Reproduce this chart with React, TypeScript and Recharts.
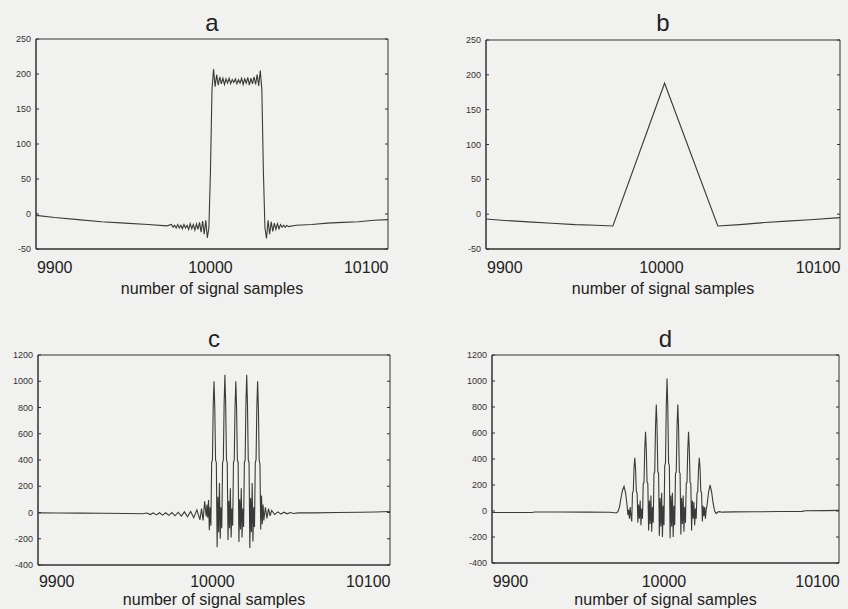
import React from 'react';
import { LineChart, Line, XAxis, YAxis, ReferenceArea } from 'recharts';

const FONT = '"Liberation Sans", Arial, Helvetica, sans-serif';
const INK = '#333';
const PAPER = '#f1f1ef';

// x axis: sample number
const sampleRange: [number, number] = [9888, 10114];
const sampleTicks = [9900, 10000, 10100];

// y axis ticks
const smallTicks = [-50, 0, 50, 100, 150, 200, 250];
const largeTicks = [-400, -200, 0, 200, 400, 600, 800, 1000, 1200];

// a: rectangular pulse with ringing
const pulseA: [number, number][] = [
  [9888, -2], [9900, -5], [9915, -8], [9930, -11], [9945, -13], [9960, -15], [9972, -17],
  [9975, -15], [9976, -19], [9977, -16], [9978, -20], [9979, -15], [9980, -20], [9981, -16],
  [9982, -21], [9983, -15], [9984, -20], [9985, -16], [9986, -22], [9987, -14], [9988, -21],
  [9989, -15], [9990, -23], [9991, -14], [9992, -22], [9993, -12], [9994, -26], [9995, -10],
  [9996, -29], [9997, -9], [9998, -34], [9999, -20], [10000, 60],
  [10001, 178], [10002, 207], [10003, 182], [10004, 199], [10005, 184], [10006, 196], [10007, 186],
  [10008, 194], [10009, 185], [10010, 193], [10011, 187], [10012, 194], [10013, 186], [10014, 192],
  [10015, 188], [10016, 193], [10017, 186], [10018, 192], [10019, 187], [10020, 194], [10021, 185],
  [10022, 193], [10023, 187], [10024, 195], [10025, 184], [10026, 194], [10027, 186], [10028, 196],
  [10029, 185], [10030, 199], [10031, 183], [10032, 205], [10033, 178], [10034, 60],
  [10035, -20], [10036, -35], [10037, -9], [10038, -29], [10039, -11], [10040, -25], [10041, -13],
  [10042, -22], [10043, -14], [10044, -21], [10045, -15], [10046, -19], [10047, -16], [10048, -19],
  [10049, -16], [10050, -18], [10055, -16], [10065, -15], [10075, -13], [10085, -12], [10095, -11],
  [10105, -9], [10114, -8],
];

// b: triangle
const triangleB: [number, number][] = [
  [9888, -7], [9900, -9], [9915, -11], [9930, -13], [9945, -15], [9958, -16], [9969, -17],
  [10002, 188], [10036, -17], [10050, -15], [10066, -12], [10080, -10], [10095, -8], [10114, -5],
];

// c: five equal bursts
const burstsC: [number, number][] = [
  [9888, -3], [9900, -4], [9915, -5], [9930, -6], [9945, -8], [9955, -10],
  [9958, -4], [9960, -16], [9962, -3], [9964, -18], [9966, -2], [9968, -20], [9970, -2],
  [9972, -22], [9974, 0], [9976, -25], [9978, 2], [9980, -28], [9982, 5], [9984, -32],
  [9986, 8], [9988, -40], [9990, 20], [9992, -55], [9993, 30], [9994, -60], [9995, 85],
  [9996, -30], [9996.5, 60], [9997, -40], [9997.5, 95], [9998, -135], [9998.5, 40], [9999, -100], [9999.5, 380],
  [10000, 400], [10000.5, 820], [10001, 1000], [10001.5, 800], [10002, 400], [10002.5, 380], [10003, -265],
  [10003.5, 120], [10004, -150], [10004.5, 225], [10005, -200], [10005.5, 40], [10006, -120], [10006.5, 380],
  [10007, 400], [10007.5, 830], [10008, 1050], [10008.5, 820], [10009, 400], [10009.5, 380], [10010, -210],
  [10010.5, 90], [10011, -120], [10011.5, 185], [10012, -190], [10012.5, 30], [10013, -100], [10013.5, 380],
  [10014, 400], [10014.5, 800], [10015, 1000], [10015.5, 800], [10016, 400], [10016.5, 380], [10017, -225],
  [10017.5, 100], [10018, -130], [10018.5, 185], [10019, -190], [10019.5, 30], [10020, -110], [10020.5, 380],
  [10021, 400], [10021.5, 830], [10022, 1050], [10022.5, 820], [10023, 400], [10023.5, 380], [10024, -270],
  [10024.5, 110], [10025, -150], [10025.5, 225], [10026, -220], [10026.5, 40], [10027, -110], [10027.5, 380],
  [10028, 400], [10028.5, 800], [10029, 1000], [10029.5, 800], [10030, 400], [10030.5, 370], [10031, -130],
  [10031.5, 130], [10032, -90], [10032.5, 60], [10033, -60], [10034, 40], [10035, -45],
  [10036, 30], [10037, -25], [10038, 15], [10040, -15], [10042, 5], [10044, -12], [10046, 2],
  [10048, -10], [10050, 0], [10052, -8], [10055, -3], [10065, -3], [10080, 0], [10095, 2],
  [10105, 4], [10114, 8],
];

// d: pyramid of bursts
const burstsD: [number, number][] = [
  [9888, -12], [9900, -12], [9914, -11], [9916, -8], [9930, -8], [9950, -9], [9965, -10],
  [9969, -15], [9970, -5], [9971, 30], [9972, 100], [9973, 160], [9974, 190], [9975, 140],
  [9976, 40], [9976.5, -30], [9977, 10], [9977.5, -60], [9978, 30], [9978.5, -40], [9979, -80], [9979.5, 140],
  [9980, 150], [9980.5, 330], [9981, 410], [9981.5, 320], [9982, 150], [9982.5, 140], [9983, -90],
  [9983.5, 50], [9984, -60], [9984.5, 80], [9985, -110], [9985.5, 20], [9986, -60], [9986.5, 210],
  [9987, 220], [9987.5, 480], [9988, 610], [9988.5, 470], [9989, 220], [9989.5, 210], [9990, -150],
  [9990.5, 80], [9991, -100], [9991.5, 120], [9992, -160], [9992.5, 30], [9993, -90], [9993.5, 290],
  [9994, 300], [9994.5, 650], [9995, 820], [9995.5, 640], [9996, 300], [9996.5, 290], [9997, -190],
  [9997.5, 100], [9998, -120], [9998.5, 140], [9999, -200], [9999.5, 40], [10000, -110], [10000.5, 350],
  [10001, 370], [10001.5, 800], [10002, 1020], [10002.5, 800], [10003, 370], [10003.5, 350], [10004, -210],
  [10004.5, 120], [10005, -120], [10005.5, 140], [10006, -200], [10006.5, 40], [10007, -110], [10007.5, 290],
  [10008, 300], [10008.5, 640], [10009, 820], [10009.5, 650], [10010, 300], [10010.5, 290], [10011, -180],
  [10011.5, 100], [10012, -100], [10012.5, 120], [10013, -160], [10013.5, 30], [10014, -90], [10014.5, 210],
  [10015, 220], [10015.5, 470], [10016, 610], [10016.5, 480], [10017, 220], [10017.5, 210], [10018, -150],
  [10018.5, 80], [10019, -60], [10019.5, 70], [10020, -110], [10020.5, 20], [10021, -60], [10021.5, 140],
  [10022, 150], [10022.5, 320], [10023, 410], [10023.5, 330], [10024, 150], [10024.5, 140], [10025, -80],
  [10025.5, 40], [10026, -40], [10026.5, 30], [10027, -60], [10027.5, 10], [10028, 40], [10029, 140],
  [10030, 200], [10031, 150], [10032, 60], [10033, 0], [10034, -20], [10035, -8], [10036, -5],
  [10038, -9], [10045, -7], [10060, -6], [10075, -4], [10090, -3], [10092, 2], [10105, 3], [10114, 5],
];

type Box = {
  left: number; top: number; width: number; height: number;
  plotL: number; plotR: number; plotT: number; plotB: number;
  letterTop: number; tickGap: number; titleGap: number;
};

type PanelProps = {
  letter: string;
  points: [number, number][];
  yDomain: [number, number];
  yTicks: number[];
  box: Box;
};

const Panel = ({ letter, points, yDomain, yTicks, box }: PanelProps) => {
  const data = points.map(([n, v]) => ({ n, v }));
  const [lo, hi] = sampleRange;
  // matlab-style minor ticks, 10 divisions of the box
  const minor = Array.from({ length: 9 }, (_, i) => lo + ((i + 1) * (hi - lo)) / 10);
  const xH = box.height - box.plotB;

  const XLabel = (p: any) => (
    <text x={p.x} y={box.plotB + box.tickGap} textAnchor="middle" fontSize={16} fill="#222" fontFamily={FONT}>
      {p.payload.value}
    </text>
  );

  const InTick = (p: any) => (
    <g stroke={INK} strokeWidth={1}>
      <line x1={p.x} y1={box.plotT} x2={p.x} y2={box.plotT + 3} />
      <line x1={p.x} y1={box.plotB} x2={p.x} y2={box.plotB - 3} />
    </g>
  );

  const YLabel = (p: any) => (
    <g>
      <text x={box.plotL - 5} y={p.y + 3} textAnchor="end" fontSize={9} fill={INK} fontFamily={FONT}>
        {p.payload.value}
      </text>
      <line x1={box.plotL} y1={p.y} x2={box.plotL + 3} y2={p.y} stroke={INK} />
      <line x1={box.plotR} y1={p.y} x2={box.plotR - 3} y2={p.y} stroke={INK} />
    </g>
  );

  return (
    <div style={{ position: 'absolute', left: box.left, top: box.top, width: box.width, height: box.height }}>
      <div
        style={{
          position: 'absolute', left: (box.plotL + box.plotR) / 2 - 20, width: 40, top: box.letterTop,
          textAlign: 'center', fontFamily: FONT, fontSize: 24, lineHeight: '24px', color: '#222',
        }}
      >
        {letter}
      </div>
      <LineChart
        width={box.width}
        height={box.height}
        data={data}
        margin={{ top: box.plotT, right: box.width - box.plotR, left: 0, bottom: 0 }}
      >
        <XAxis
          xAxisId="minor"
          orientation="top"
          type="number"
          dataKey="n"
          domain={sampleRange}
          allowDataOverflow
          ticks={minor}
          height={0}
          axisLine={false}
          tickLine={false}
          tickSize={0}
          tick={InTick}
        />
        <XAxis
          xAxisId="x"
          type="number"
          dataKey="n"
          domain={sampleRange}
          allowDataOverflow
          ticks={sampleTicks}
          height={xH}
          axisLine={{ stroke: INK }}
          tickLine={false}
          tick={XLabel}
          label={{
            value: 'number of signal samples', position: 'insideBottom',
            offset: xH - box.titleGap - 4,
            fontSize: 16, fill: '#222', fontFamily: FONT,
          }}
        />
        <YAxis
          type="number"
          domain={yDomain}
          allowDataOverflow
          ticks={yTicks}
          width={box.plotL}
          axisLine={{ stroke: INK }}
          tickLine={false}
          tick={YLabel}
        />
        <ReferenceArea
          xAxisId="x"
          x1={lo}
          x2={hi}
          y1={yDomain[0]}
          y2={yDomain[1]}
          fill="none"
          fillOpacity={0}
          stroke={INK}
          strokeWidth={1}
        />
        <Line
          xAxisId="x"
          type="linear"
          dataKey="v"
          stroke="#3a3a3a"
          strokeWidth={1.1}
          dot={false}
          isAnimationActive={false}
        />
      </LineChart>
    </div>
  );
};

const boxA: Box = { left: 0, top: 0, width: 424, height: 300, plotL: 36, plotR: 388, plotT: 39, plotB: 249, letterTop: 11, tickGap: 24, titleGap: 41 };
const boxB: Box = { left: 450, top: 0, width: 398, height: 300, plotL: 36, plotR: 390, plotT: 40, plotB: 249, letterTop: 11, tickGap: 24, titleGap: 41 };
const boxC: Box = { left: 0, top: 310, width: 424, height: 299, plotL: 38, plotR: 390, plotT: 45, plotB: 255, letterTop: 17, tickGap: 22, titleGap: 36 };
const boxD: Box = { left: 450, top: 310, width: 398, height: 299, plotL: 42, plotR: 389, plotT: 45, plotB: 253, letterTop: 17, tickGap: 24, titleGap: 38 };

export default function App() {
  return (
    <div style={{ position: 'absolute', left: 0, top: 0, width: 848, height: 609, background: PAPER, overflow: 'hidden' }}>
      <Panel letter="a" points={pulseA} yDomain={[-50, 250]} yTicks={smallTicks} box={boxA} />
      <Panel letter="b" points={triangleB} yDomain={[-50, 250]} yTicks={smallTicks} box={boxB} />
      <Panel letter="c" points={burstsC} yDomain={[-400, 1200]} yTicks={largeTicks} box={boxC} />
      <Panel letter="d" points={burstsD} yDomain={[-400, 1200]} yTicks={largeTicks} box={boxD} />
    </div>
  );
}
